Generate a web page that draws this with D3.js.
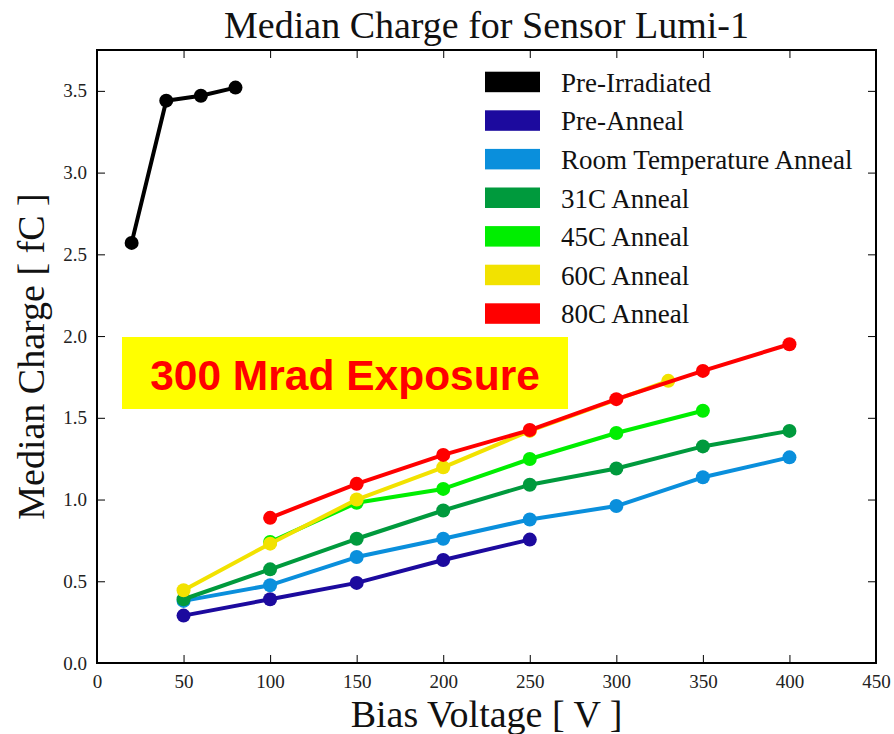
<!DOCTYPE html>
<html>
<head>
<meta charset="utf-8">
<script src="https://cdn.jsdelivr.net/npm/d3@7"></script>
<style>
  html, body { margin: 0; padding: 0; background: #fff; }
  svg { display: block; }
</style>
</head>
<body>
<div id="chart"></div>
<script>
// ---------- data ----------
const seriesNames = ["Pre-Irradiated", "Pre-Anneal", "Room Temperature Anneal", "31C Anneal", "45C Anneal", "60C Anneal", "80C Anneal"];
const seriesColors = ["#000000", "#1c0a9e", "#0a8fdc", "#009a3d", "#00ee00", "#f2e200", "#ff0000"];

const preIrradiatedV = [20, 40, 60, 80];
const preIrradiatedQ = [2.57, 3.44, 3.47, 3.52];

const preAnnealV = [50, 100, 150, 200, 250];
const preAnnealQ = [0.29, 0.39, 0.49, 0.63, 0.755];

const roomTempV = [50, 100, 150, 200, 250, 300, 350, 400];
const roomTempQ = [0.38, 0.476, 0.648, 0.76, 0.878, 0.96, 1.136, 1.258];

const anneal31V = [50, 100, 150, 200, 250, 300, 350, 400];
const anneal31Q = [0.39, 0.573, 0.76, 0.933, 1.09, 1.19, 1.325, 1.42];

const anneal45V = [100, 150, 200, 250, 300, 350];
const anneal45Q = [0.74, 0.98, 1.065, 1.248, 1.407, 1.543];

const anneal60V = [50, 100, 150, 200, 250, 330];
const anneal60Q = [0.445, 0.73, 1.0, 1.197, 1.42, 1.726];

const anneal80V = [100, 150, 200, 250, 300, 350, 400];
const anneal80Q = [0.888, 1.096, 1.273, 1.425, 1.614, 1.787, 1.95];

const xTicks = [0, 50, 100, 150, 200, 250, 300, 350, 400, 450];
const yTicks = [0.0, 0.5, 1.0, 1.5, 2.0, 2.5, 3.0, 3.5];

const titleText = "Median Charge for Sensor Lumi-1";
const xLabelText = "Bias Voltage [ V ]";
const yLabelText = "Median Charge [ fC ]";
const annotationText = "300 Mrad Exposure";

const seriesV = [preIrradiatedV, preAnnealV, roomTempV, anneal31V, anneal45V, anneal60V, anneal80V];
const seriesQ = [preIrradiatedQ, preAnnealQ, roomTempQ, anneal31Q, anneal45Q, anneal60Q, anneal80Q];

// ---------- layout ----------
const W = 894, H = 734;
const m = { left: 97, right: 894 - 876, top: 50, bottom: 734 - 663 };
const serif = "'Liberation Serif', 'Times New Roman', serif";

const svg = d3.select("#chart").append("svg").attr("width", W).attr("height", H);

const x = d3.scaleLinear().domain([0, 450]).range([m.left, W - m.right]);
const y = d3.scaleLinear().domain([0, 3.75]).range([H - m.bottom, m.top]);

// ticks (inward, all four sides)
const tickLen = 8;
const axB = d3.axisBottom(x).tickValues(xTicks).tickSizeInner(-tickLen).tickSizeOuter(0).tickPadding(12).tickFormat(d3.format("d"));
const axT = d3.axisTop(x).tickValues(xTicks).tickSizeInner(-tickLen).tickSizeOuter(0).tickFormat("");
const axL = d3.axisLeft(y).tickValues(yTicks).tickSizeInner(-tickLen).tickSizeOuter(0).tickPadding(10).tickFormat(d3.format(".1f"));
const axR = d3.axisRight(y).tickValues(yTicks).tickSizeInner(-tickLen).tickSizeOuter(0).tickFormat("");

function styleAxis(g) {
  g.select(".domain").remove();
  g.selectAll(".tick line").attr("stroke", "#000").attr("stroke-width", 1);
  g.selectAll(".tick text").attr("font-family", serif).attr("font-size", 19).attr("fill", "#222");
}
svg.append("g").attr("transform", `translate(0,${H - m.bottom})`).call(axB).call(styleAxis);
svg.append("g").attr("transform", `translate(0,${m.top})`).call(axT).call(styleAxis);
svg.append("g").attr("transform", `translate(${m.left},0)`).call(axL).call(styleAxis);
svg.append("g").attr("transform", `translate(${W - m.right},0)`).call(axR).call(styleAxis);

// annotation box
const boxX0 = 122, boxX1 = 568, boxY0 = 337, boxY1 = 409;
svg.append("rect").attr("x", boxX0).attr("y", boxY0).attr("width", boxX1 - boxX0).attr("height", boxY1 - boxY0).attr("fill", "#ffff00");
svg.append("text").attr("x", (boxX0 + boxX1) / 2).attr("y", 390).attr("text-anchor", "middle")
  .attr("font-family", "'Liberation Sans', Arial, sans-serif").attr("font-weight", "bold").attr("font-size", 42.5)
  .attr("fill", "#ff0000").text(annotationText);

// series
const line = d3.line().x(d => x(d[0])).y(d => y(d[1]));
seriesNames.forEach((name, i) => {
  const pts = seriesV[i].map((v, j) => [v, seriesQ[i][j]]);
  const g = svg.append("g");
  g.append("path").datum(pts).attr("d", line).attr("fill", "none")
    .attr("stroke", seriesColors[i]).attr("stroke-width", 4).attr("stroke-linejoin", "round");
  g.selectAll("circle").data(pts).enter().append("circle")
    .attr("cx", d => x(d[0])).attr("cy", d => y(d[1])).attr("r", 7).attr("fill", seriesColors[i]);
});

// frame
svg.append("rect").attr("x", m.left).attr("y", m.top)
  .attr("width", W - m.right - m.left).attr("height", H - m.bottom - m.top)
  .attr("fill", "none").attr("stroke", "#000").attr("stroke-width", 2);

// legend
const leg = svg.append("g");
seriesNames.forEach((name, i) => {
  const yy = 71.7 + i * 38.6;
  leg.append("rect").attr("x", 485).attr("y", yy).attr("width", 55).attr("height", 20.5).attr("fill", seriesColors[i]);
  leg.append("text").attr("x", 561).attr("y", yy + 20).attr("font-family", serif).attr("font-size", 27)
    .attr("fill", "#111").text(name);
});

// titles
const cx = (m.left + W - m.right) / 2;
svg.append("text").attr("x", cx).attr("y", 38).attr("text-anchor", "middle")
  .attr("font-family", serif).attr("font-size", 38).attr("fill", "#111").text(titleText);
svg.append("text").attr("x", cx).attr("y", 727).attr("text-anchor", "middle")
  .attr("font-family", serif).attr("font-size", 38).attr("fill", "#111").text(xLabelText);
svg.append("text").attr("transform", `translate(44,${(m.top + H - m.bottom) / 2}) rotate(-90)`).attr("text-anchor", "middle")
  .attr("font-family", serif).attr("font-size", 38).attr("fill", "#111").text(yLabelText);
</script>
</body>
</html>
